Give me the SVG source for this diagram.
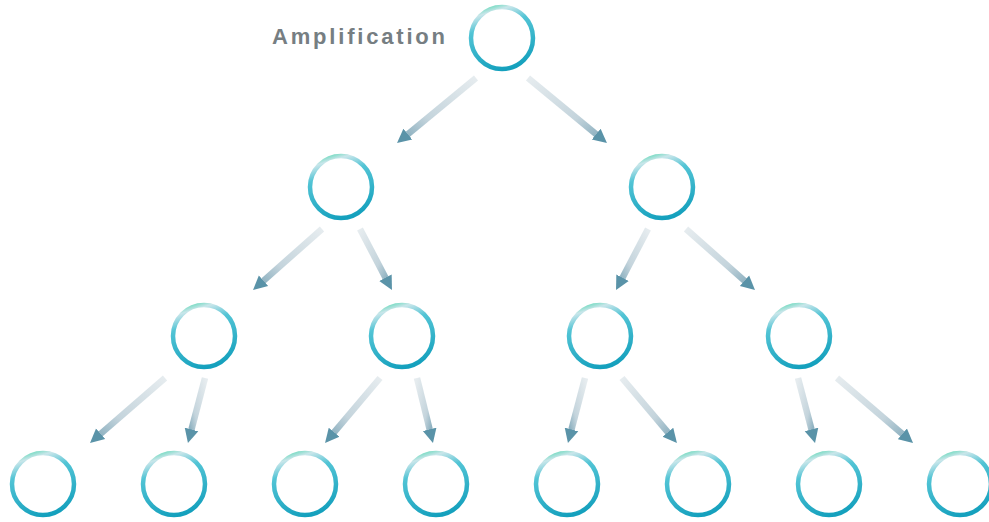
<svg xmlns="http://www.w3.org/2000/svg" width="989" height="522" viewBox="0 0 989 522">
  <defs>
    <linearGradient id="ring" x1="0.3" y1="0" x2="0.6" y2="1">
      <stop offset="0" stop-color="#7fdcc6"/>
      <stop offset="0.08" stop-color="#c9e6ea"/>
      <stop offset="0.3" stop-color="#52c4d5"/>
      <stop offset="1" stop-color="#14a0bd"/>
    </linearGradient>
    <linearGradient id="gL" x1="1" y1="0" x2="0" y2="1">
      <stop offset="0" stop-color="#e6ecef"/>
      <stop offset="0.7" stop-color="#c4d4dc"/>
      <stop offset="1" stop-color="#8fb2c1"/>
    </linearGradient>
    <linearGradient id="gR" x1="0" y1="0" x2="1" y2="1">
      <stop offset="0" stop-color="#e6ecef"/>
      <stop offset="0.7" stop-color="#c4d4dc"/>
      <stop offset="1" stop-color="#8fb2c1"/>
    </linearGradient>
    <marker id="head" markerUnits="userSpaceOnUse" markerWidth="16" markerHeight="16" viewBox="0 -8 16 16" refX="2" refY="0" orient="auto">
      <path d="M0,-7 L14,0 L0,7 Z" fill="#5a93a8"/>
    </marker>
  </defs>
  <style>
    .node circle { fill: #ffffff; stroke: url(#ring); stroke-width: 4.5; }
    .conn line { stroke-width: 6.5; marker-end: url(#head); }
    .l { stroke: url(#gL); }
    .r { stroke: url(#gR); }
    .label { font-family: "Liberation Sans", Arial, sans-serif; font-size: 22px; font-weight: bold; fill: #767e82; }
  </style>

  <g id="connectors" class="conn">
    <line class="l" x1="476" y1="78" x2="406.3" y2="135.4"/>
    <line class="r" x1="528" y1="78" x2="597.7" y2="135.4"/>
    <line class="l" x1="322" y1="229" x2="262" y2="282.1"/>
    <line class="r" x1="360" y1="229" x2="386.4" y2="279.4"/>
    <line class="l" x1="648" y1="229" x2="621.6" y2="279.4"/>
    <line class="r" x1="686" y1="229" x2="746" y2="282.1"/>
    <line class="l" x1="165" y1="378" x2="99.1" y2="435.1"/>
    <line class="l" x1="205" y1="378" x2="191" y2="431.4"/>
    <line class="l" x1="380" y1="378" x2="332.8" y2="433.8"/>
    <line class="r" x1="417" y1="378" x2="430.1" y2="431.3"/>
    <line class="l" x1="585" y1="378" x2="571" y2="431.4"/>
    <line class="r" x1="622" y1="378" x2="669.2" y2="433.8"/>
    <line class="r" x1="798" y1="378" x2="812" y2="431.4"/>
    <line class="r" x1="837" y1="378" x2="903.9" y2="435.2"/>
  </g>

  <g id="label-amplification">
    <text class="label" x="272" y="44" textLength="173" lengthAdjust="spacing">Amplification</text>
  </g>

  <g id="n1" class="node"><circle cx="502" cy="38" r="31"/></g>
  <g id="n2a" class="node"><circle cx="341" cy="187" r="31"/></g>
  <g id="n2b" class="node"><circle cx="662" cy="187" r="31"/></g>
  <g id="n3a" class="node"><circle cx="204" cy="336" r="31"/></g>
  <g id="n3b" class="node"><circle cx="402" cy="336" r="31"/></g>
  <g id="n3c" class="node"><circle cx="600" cy="336" r="31"/></g>
  <g id="n3d" class="node"><circle cx="799" cy="336" r="31"/></g>
  <g id="n4a" class="node"><circle cx="43" cy="484" r="31"/></g>
  <g id="n4b" class="node"><circle cx="174" cy="484" r="31"/></g>
  <g id="n4c" class="node"><circle cx="305" cy="484" r="31"/></g>
  <g id="n4d" class="node"><circle cx="436" cy="484" r="31"/></g>
  <g id="n4e" class="node"><circle cx="567" cy="484" r="31"/></g>
  <g id="n4f" class="node"><circle cx="698" cy="484" r="31"/></g>
  <g id="n4g" class="node"><circle cx="829" cy="484" r="31"/></g>
  <g id="n4h" class="node"><circle cx="960" cy="484" r="31"/></g>
</svg>
